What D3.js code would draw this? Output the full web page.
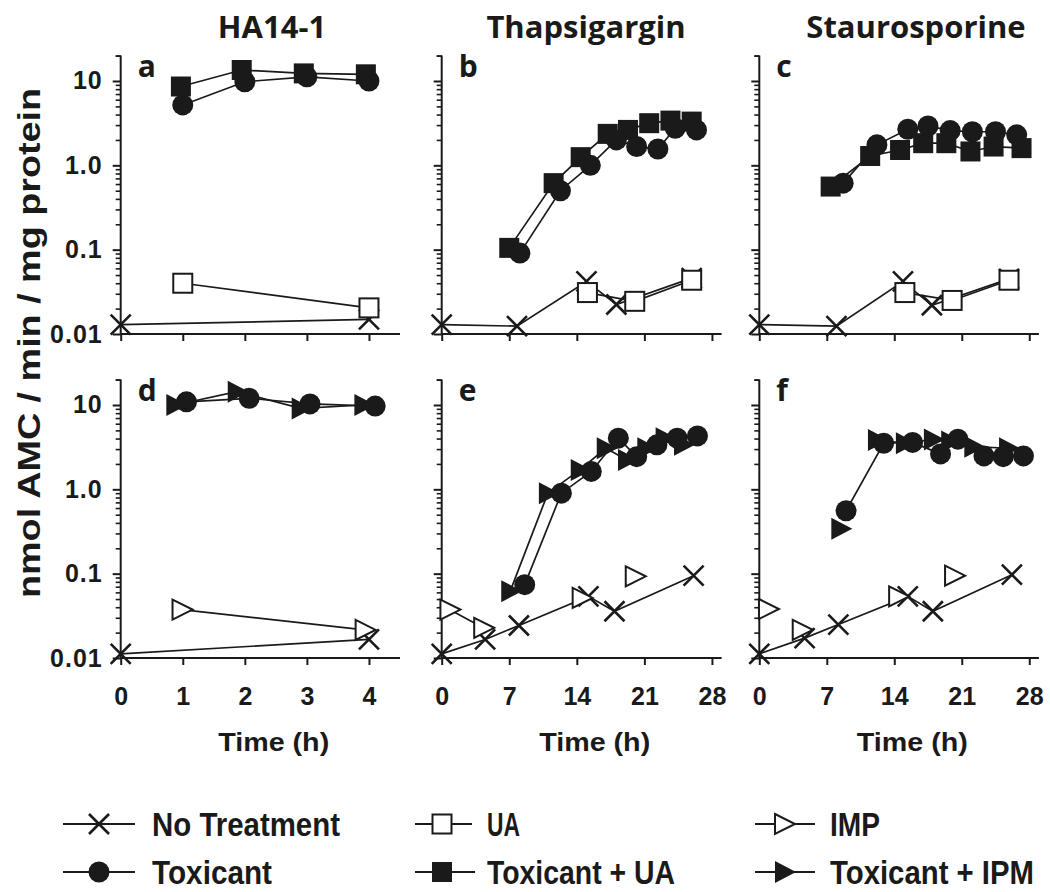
<!DOCTYPE html>
<html><head><meta charset="utf-8">
<script src="https://cdn.jsdelivr.net/npm/d3@7"></script>
<style>body{margin:0;background:#fff}svg{display:block}</style>
</head><body>
<svg id="c" width="1050" height="892"></svg>
<script>
// ---------- DATA ----------
const titles = ["HA14-1", "Thapsigargin", "Staurosporine"];
const panelLetters = ["a", "b", "c", "d", "e", "f"];
const yTickValues = [0.01, 0.1, 1, 10];
const yTickLabels = ["0.01", "0.1", "1.0", "10"];
const xTicksShort = [0, 1, 2, 3, 4];
const xTicksLong = [0, 7, 14, 21, 28];

// panel a (HA14-1, UA)
const aNoTreat = [[0, 0.0129], [4, 0.0149]];
const aUA = [[1, 0.040], [4, 0.0204]];
const aTox = [[1, 5.2], [2, 9.8], [3, 11.2], [4, 10.0]];
const aToxUA = [[0.97, 8.6], [1.95, 13.5], [2.95, 12.3], [3.95, 12.0]];
// panel b (Thapsigargin, UA)
const bNoTreat = [[0, 0.0129], [7.8, 0.0124], [15, 0.042], [18.1, 0.0224], [25.9, 0.046]];
const bUA = [[15.1, 0.031], [20, 0.0244], [25.9, 0.0434]];
const bTox = [[8.1, 0.091], [12.3, 0.50], [15.4, 1.0], [18.1, 2.0], [20.2, 1.67], [22.4, 1.56], [24.2, 2.75], [26.4, 2.63]];
const bToxUA = [[7, 0.105], [11.6, 0.615], [14.4, 1.25], [17.2, 2.36], [19.3, 2.63], [21.5, 3.16], [23.7, 3.39], [25.9, 3.3]];
// panel c (Staurosporine, UA)
const cNoTreat = [[0, 0.0129], [8, 0.0124], [14.9, 0.042], [17.9, 0.0219], [25.9, 0.045]];
const cUA = [[15.1, 0.031], [20, 0.025], [25.9, 0.0434]];
const cTox = [[8.7, 0.615], [12.2, 1.75], [15.4, 2.68], [17.5, 2.93], [19.8, 2.58], [22.1, 2.5], [24.5, 2.5], [26.7, 2.3]];
const cToxUA = [[7.4, 0.56], [11.5, 1.29], [14.6, 1.52], [17, 1.83], [19.4, 1.83], [21.9, 1.46], [24.3, 1.67], [27.2, 1.6]];
// panel d (HA14-1, IMP)
const dNoTreat = [[0, 0.0112], [4, 0.0166]];
const dIMP = [[0.98, 0.0375], [3.93, 0.0215]];
const dTox = [[1.06, 10.9], [2.07, 12.0], [3.05, 10.3], [4.1, 9.7]];
const dToxIPM = [[0.88, 10.0], [1.87, 14.4], [2.9, 9.1], [3.91, 10.0]];
// panel e (Thapsigargin, IMP)
const eNoTreat = [[0, 0.0112], [4.5, 0.0166], [8, 0.0243], [15.2, 0.0538], [17.9, 0.0358], [26.1, 0.0946]];
const eIMP = [[0.8, 0.0375], [4.3, 0.0228], [14.5, 0.0515], [20, 0.093]];
const eTox = [[8.6, 0.074], [12.4, 0.90], [15.5, 1.63], [18.3, 4.04], [20.2, 2.44], [22.3, 3.37], [24.4, 4.04], [26.5, 4.3]];
const eToxIPM = [[7.1, 0.062], [11, 0.90], [14.3, 1.70], [17, 3.07], [19.2, 2.23], [21.2, 3.07], [23.1, 4.04], [25, 3.37]];
// panel f (Staurosporine, IMP)
const fNoTreat = [[0, 0.0112], [4.7, 0.0172], [8.2, 0.0249], [15.4, 0.0538], [18, 0.0358], [26.2, 0.0972]];
const fIMP = [[0.9, 0.0381], [4.4, 0.0216], [14.4, 0.0538], [20.2, 0.0946]];
const fTox = [[9, 0.557], [12.9, 3.52], [15.9, 3.6], [18.8, 2.63], [20.6, 3.93], [23.3, 2.49], [25.3, 2.44], [27.4, 2.49]];
const fToxIPM = [[8.4, 0.34], [12.2, 3.85], [15.1, 3.52], [18, 3.9], [19.8, 3.68], [22.2, 3.2], [25.8, 3.07]];

const legendLabels = ["No Treatment", "UA", "IMP", "Toxicant", "Toxicant + UA", "Toxicant + IPM"];

// ---------- DRAW ----------
const svg = d3.select("#c");
const INK = "#1a1a1a";
const BOLD = "'Liberation Sans', Arial, sans-serif";
const MYR = "'Open Sans', 'Liberation Sans', sans-serif";

function drawMarker(g, type, x, y) {
  const s = 10;
  if (type === "x") {
    g.append("path").attr("d", `M${x - s},${y - s}L${x + s},${y + s}M${x - s},${y + s}L${x + s},${y - s}`)
      .attr("stroke", INK).attr("stroke-width", 2.6).attr("fill", "none");
  } else if (type === "circle") {
    g.append("circle").attr("cx", x).attr("cy", y).attr("r", 10.5).attr("fill", INK);
  } else if (type === "squareF") {
    g.append("rect").attr("x", x - 10).attr("y", y - 10).attr("width", 20).attr("height", 20).attr("fill", INK);
  } else if (type === "squareO") {
    g.append("rect").attr("x", x - 9.5).attr("y", y - 9.5).attr("width", 19).attr("height", 19)
      .attr("fill", "#fff").attr("stroke", INK).attr("stroke-width", 2);
  } else if (type === "triF") {
    g.append("path").attr("d", `M${x - 9},${y - 11}L${x + 12},${y}L${x - 9},${y + 11}Z`).attr("fill", INK);
  } else if (type === "triO") {
    g.append("path").attr("d", `M${x - 9},${y - 10}L${x + 11},${y}L${x - 9},${y + 10}Z`)
      .attr("fill", "#fff").attr("stroke", INK).attr("stroke-width", 2);
  }
}

const cols = [
  { x0: 120.7, x1: 400, dom: [0, 4.5], ticks: xTicksShort, tcx: 272 },
  { x0: 441.7, x1: 721.6, dom: [0, 29], ticks: xTicksLong, tcx: 586 },
  { x0: 759.3, x1: 1038.9, dom: [0, 29], ticks: xTicksLong, tcx: 916 }
];
const rows = [
  { yBot: 334.0, yTop: 55.6 },
  { yBot: 658.0, yTop: 379.6 }
];

// series: [data, marker, linkStart, linkEnd]
const panels = [
  [[aNoTreat, "x"], [aUA, "squareO"], [aToxUA, "squareF"], [aTox, "circle"]],
  [[bNoTreat, "x"], [bUA, "squareO"], [bToxUA, "squareF"], [bTox, "circle"]],
  [[cNoTreat, "x"], [cUA, "squareO"], [cToxUA, "squareF"], [cTox, "circle"]],
  [[dNoTreat, "x"], [dIMP, "triO"], [dToxIPM, "triF"], [dTox, "circle"]],
  [[eNoTreat, "x"], [eIMP, "triO", 0, 2], [eToxIPM, "triF"], [eTox, "circle"]],
  [[fNoTreat, "x"], [fIMP, "triO", 0, 0], [fToxIPM, "triF", 1], [fTox, "circle"]]
];

// titles
titles.forEach((t, i) => {
  const c = cols[i];
  svg.append("text").attr("x", c.tcx).attr("y", 38).attr("text-anchor", "middle")
    .attr("font-family", MYR).attr("font-weight", 700).attr("font-size", 31).attr("fill", INK).text(t);
});

// y axis label
svg.append("text").attr("transform", "translate(40,343) rotate(-90)").attr("text-anchor", "middle")
  .attr("font-family", BOLD).attr("font-weight", 700).attr("font-size", 32).attr("fill", INK)
  .attr("textLength", 510).attr("lengthAdjust", "spacingAndGlyphs")
  .text("nmol AMC / min / mg protein");

panels.forEach((series, pi) => {
  const ri = Math.floor(pi / 3), ci = pi % 3;
  const c = cols[ci], r = rows[ri];
  const x = d3.scaleLinear().domain(c.dom).range([c.x0, c.x1]);
  const y = d3.scaleLog().domain([0.01, 20]).range([r.yBot, r.yTop]);
  const g = svg.append("g");

  // y axis with minor ticks
  const minor = [];
  [0.01, 0.1, 1, 10].forEach(d => { for (let k = 2; k <= 9; k++) minor.push(d * k); });
  minor.push(20);
  const yAxis = d3.axisLeft(y).tickValues(yTickValues).tickSize(8)
    .tickFormat((d, i) => ci === 0 ? yTickLabels[i] : "").tickPadding(10);
  const ya = g.append("g").attr("transform", `translate(${c.x0},0)`).call(yAxis);
  ya.select(".domain").attr("stroke", INK).attr("stroke-width", 2).attr("d", `M0,${r.yTop}V${r.yBot}`);
  ya.selectAll(".tick line").attr("stroke", INK).attr("stroke-width", 2);
  ya.selectAll("text").attr("font-family", BOLD).attr("font-weight", 700).attr("font-size", 25).attr("fill", INK)
    .attr("letter-spacing", 1);
  const ym = d3.axisLeft(y).tickValues(minor.filter(v => v <= 20)).tickSize(5).tickFormat("");
  const ymg = g.append("g").attr("transform", `translate(${c.x0},0)`).call(ym);
  ymg.select(".domain").remove();
  ymg.selectAll(".tick line").attr("stroke", INK).attr("stroke-width", 1.6);

  // x axis
  const xAxis = d3.axisBottom(x).tickValues(c.ticks).tickSize(7).tickPadding(22)
    .tickFormat(d => ri === 1 ? d : "");
  const xa = g.append("g").attr("transform", `translate(0,${r.yBot})`).call(xAxis);
  xa.select(".domain").attr("stroke", INK).attr("stroke-width", 2).attr("d", `M${c.x0},0H${c.x1}`);
  xa.selectAll(".tick line").attr("stroke", INK).attr("stroke-width", 2);
  xa.selectAll("text").attr("font-family", BOLD).attr("font-weight", 700).attr("font-size", 25).attr("fill", INK);

  if (ri === 1) {
    g.append("text").attr("x", c.x0 + 153).attr("y", 751).attr("text-anchor", "middle")
      .attr("font-family", BOLD).attr("font-weight", 700).attr("font-size", 25).attr("fill", INK)
      .attr("textLength", 111).attr("lengthAdjust", "spacingAndGlyphs").text("Time (h)");
  }

  // panel letter
  g.append("text").attr("x", c.x0 + 17).attr("y", r.yTop + 21)
    .attr("font-family", MYR).attr("font-weight", 700).attr("font-size", 30).attr("fill", INK)
    .text(panelLetters[pi]);

  // series
  const line = d3.line().x(d => x(d[0])).y(d => y(d[1]));
  series.forEach(s => {
    const [data, mk, ls, le] = s;
    const start = ls === undefined ? 0 : ls;
    const end = le === undefined ? data.length : le;
    const seg = data.slice(start, end);
    if (seg.length > 1) {
      g.append("path").attr("d", line(seg)).attr("fill", "none").attr("stroke", INK).attr("stroke-width", 1.7);
    }
  });
  series.forEach(s => {
    const [data, mk] = s;
    data.forEach(d => drawMarker(g, mk, x(d[0]), y(d[1])));
  });
});

// legend
const legendPos = [
  { lx0: 63, lx1: 135, mx: 99, tx: 152, y: 824, mk: "x" },
  { lx0: 415, lx1: 472, mx: 442, tx: 487, y: 824, mk: "squareO" },
  { lx0: 755, lx1: 815, mx: 784, tx: 830, y: 824, mk: "triO" },
  { lx0: 63, lx1: 135, mx: 99, tx: 152, y: 872, mk: "circle" },
  { lx0: 415, lx1: 475, mx: 442, tx: 487, y: 872, mk: "squareF" },
  { lx0: 755, lx1: 815, mx: 784, tx: 830, y: 872, mk: "triF" }
];
const legendWidths = [188, 33, 50, 120, 188, 204];
const lg = svg.append("g");
legendLabels.forEach((lab, i) => {
  const p = legendPos[i];
  lg.append("line").attr("x1", p.lx0).attr("x2", p.lx1).attr("y1", p.y).attr("y2", p.y)
    .attr("stroke", INK).attr("stroke-width", 2);
  drawMarker(lg, p.mk, p.mx, p.y);
  lg.append("text").attr("transform", `translate(${p.tx},${p.y + 12}) scale(1,1.18)`)
    .attr("font-family", "'Liberation Sans Narrow', 'Liberation Sans', sans-serif").attr("font-weight", 700)
    .attr("font-size", 28).attr("fill", INK)
    .attr("textLength", legendWidths[i]).attr("lengthAdjust", "spacingAndGlyphs").text(lab);
});
</script>
</body></html>
